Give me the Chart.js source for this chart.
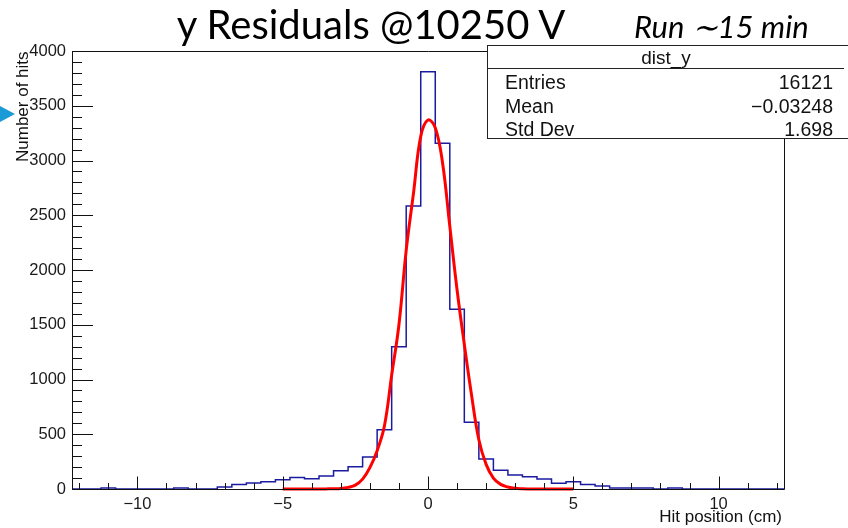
<!DOCTYPE html>
<html>
<head>
<meta charset="utf-8">
<script src="https://cdn.jsdelivr.net/npm/chart.js@4/dist/chart.umd.min.js"></script>
<style>
  body { margin: 0; background: #fff; }
  #wrap { position: relative; width: 848px; height: 528px; overflow: hidden; font-family: "Liberation Sans", Arial, sans-serif; color: #111; }
  #wrap canvas { position: absolute; left: 0; top: 0; }
  .abs { position: absolute; white-space: nowrap; }
  #title { left: 171px; width: 400px; top: 4px; text-align: center; font-family: Lato, sans-serif; font-size: 40px; line-height: 40px; color: #000; }
  #run { left: 634px; top: 11px; font-family: Lato, sans-serif; font-style: italic; font-size: 31px; line-height: 31px; color: #000; }
  #bullet { left: 0; top: 106px; width: 0; height: 0; border-left: 15px solid #1b9bd5; border-top: 8px solid transparent; border-bottom: 8px solid transparent; }
  #ytitle { left: 14px; top: 162px; font-size: 17px; line-height: 17px; transform: rotate(-90deg); transform-origin: 0 0; }
  #xtitle { right: 66px; top: 508px; font-size: 17px; line-height: 17px; }
  #stats { left: 487px; top: 45px; width: 380px; height: 94px; background: #fff; border: 1.5px solid #222; box-sizing: border-box; }
  #stats .hdr { position: absolute; left: 0; top: 0; width: 356px; height: 22px; border-bottom: 1.5px solid #222; }
  #stats .row { position: absolute; left: 17px; width: 328px; font-size: 19.5px; line-height: 19.5px; }
  #stats .row span { position: absolute; right: 0; }
  #stats .name { position: absolute; left: 0; width: 356px; text-align: center; font-size: 19px; line-height: 19px; top: 2px; }
</style>
</head>
<body>
<div id="wrap">
  <canvas id="resChart" width="848" height="528"></canvas>
  <div class="abs" id="title">y Residuals @10250 V</div>
  <div class="abs" id="run">Run ∼15 min</div>
  <div class="abs" id="bullet"></div>
  <div class="abs" id="ytitle">Number of hits</div>
  <div class="abs" id="xtitle">Hit position (cm)</div>
  <div class="abs" id="stats">
    <div class="hdr"></div>
    <div class="name">dist_y</div>
    <div class="row" style="top:27px">Entries<span>16121</span></div>
    <div class="row" style="top:50.5px">Mean<span>−0.03248</span></div>
    <div class="row" style="top:74px">Std Dev<span>1.698</span></div>
  </div>
</div>
<script>
// histogram bins (width 0.5 cm) and their counts
const binCenters = [-12, -11.5, -11, -10.5, -10, -9.5, -9, -8.5, -8, -7.5, -7, -6.5, -6, -5.5, -5, -4.5, -4, -3.5, -3, -2.5,
  -2, -1.5, -1, -0.5, 0, 0.5, 1, 1.5, 2, 2.5, 3, 3.5, 4, 4.5, 5, 5.5, 6, 6.5, 7, 7.5,
  8, 8.5, 9, 9.5, 10, 10.5, 11, 11.5, 12];
const binCounts = [0, 0, 8, 0, 0, 0, 0, 8, 0, 0, 18, 40, 55, 67, 85, 106, 94, 119, 167, 204,
  292, 541, 1300, 2584, 3811, 3157, 1641, 609, 275, 172, 128, 112, 92, 53, 67, 41, 28, 9, 8, 8,
  0, 8, 0, 0, 0, 0, 0, 0, 0];
const binWidth = 0.5;

// gaussian fit curve
const fitX = [-5, -4.5, -4, -3.5, -3.25, -3, -2.75, -2.5, -2.25, -2, -1.75, -1.5, -1.25, -1, -0.75, -0.5, -0.25, 0,
  0.25, 0.5, 0.75, 1, 1.25, 1.5, 1.75, 2, 2.25, 2.5, 2.75, 3, 3.25, 3.5, 4, 4.5, 5];
const fitY = [0, 0, 0, 1, 2, 5, 15, 35, 90, 195, 350, 575, 1040, 1500, 2180, 2700, 3220, 3370,
  3300, 2980, 2400, 1820, 1320, 855, 450, 225, 100, 42, 18, 6, 2, 1, 0, 0, 0];

const xTicks = [-10, -5, 0, 5, 10];
const yTicks = [0, 500, 1000, 1500, 2000, 2500, 3000, 3500, 4000];
const xMinorStep = 1;
const yMinorStep = 100;

// step outline from the bin edges
const histPoints = binCenters.map((c, i) => ({ x: c - binWidth / 2, y: binCounts[i] }));
histPoints.push({ x: binCenters[binCenters.length - 1] + binWidth / 2, y: binCounts[binCounts.length - 1] });
const fitPoints = fitX.map((x, i) => ({ x: x, y: fitY[i] }));

// ROOT style frame with ticks pointing inside
const rootFrame = {
  id: "rootFrame",
  afterDatasetsDraw(chart) {
    const { ctx, chartArea: a, scales: { x, y } } = chart;
    ctx.save();
    ctx.strokeStyle = "#111";
    ctx.lineWidth = 1;
    ctx.beginPath();
    ctx.rect(Math.round(a.left) + 0.5, Math.round(a.top) + 0.5, Math.round(a.right - a.left), Math.round(a.bottom - a.top));
    ctx.stroke();
    ctx.beginPath();
    for (let v = y.min; v <= y.max; v += yMinorStep) {
      const py = Math.round(y.getPixelForValue(v)) + 0.5;
      const len = v % 500 === 0 ? 21 : 10;
      ctx.moveTo(a.left, py);
      ctx.lineTo(a.left + len, py);
    }
    for (let v = -12; v <= 12; v += xMinorStep) {
      const px = Math.round(x.getPixelForValue(v)) + 0.5;
      const len = v % 5 === 0 ? 12.5 : 6;
      ctx.moveTo(px, a.bottom);
      ctx.lineTo(px, a.bottom - len);
    }
    ctx.stroke();
    ctx.restore();
  }
};

const tickFont = { family: "'Liberation Sans', Arial, sans-serif", size: 16.5 };

new Chart(document.getElementById("resChart"), {
  type: "line",
  data: {
    datasets: [
      {
        label: "dist_y",
        data: histPoints,
        stepped: "before",
        borderColor: "#1b1ba0",
        borderWidth: 1.5,
        pointRadius: 0,
        fill: false,
        clip: 3,
        order: 2,
      },
      {
        label: "fit",
        data: fitPoints,
        borderColor: "#ff0000",
        borderWidth: 3,
        tension: 0.4,
        pointRadius: 0,
        fill: false,
        clip: 3,
        order: 1,
      },
    ],
  },
  options: {
    responsive: false,
    animation: false,
    events: [],
    layout: { padding: { left: 0, top: 51, right: 64, bottom: 0 } },
    plugins: {
      legend: { display: false },
      title: { display: false },
      tooltip: { enabled: false },
    },
    scales: {
      x: {
        type: "linear",
        min: -12.25,
        max: 12.25,
        grid: { display: false, drawTicks: false },
        border: { display: false },
        afterBuildTicks: (s) => { s.ticks = xTicks.map(v => ({ value: v })); },
        afterFit: (s) => { s.height = 39; },
        ticks: {
          padding: 6,
          color: "#1a1a1a",
          font: tickFont,
          callback: (v) => String(v).replace("-", "\u2212"),
        },
      },
      y: {
        min: 0,
        max: 4000,
        grid: { display: false, drawTicks: false },
        border: { display: false },
        afterBuildTicks: (s) => { s.ticks = yTicks.map(v => ({ value: v })); },
        afterFit: (s) => { s.width = 72; },
        ticks: {
          padding: 6,
          color: "#1a1a1a",
          font: tickFont,
          callback: (v) => String(v),
        },
      },
    },
  },
  plugins: [rootFrame],
});
</script>
</body>
</html>
